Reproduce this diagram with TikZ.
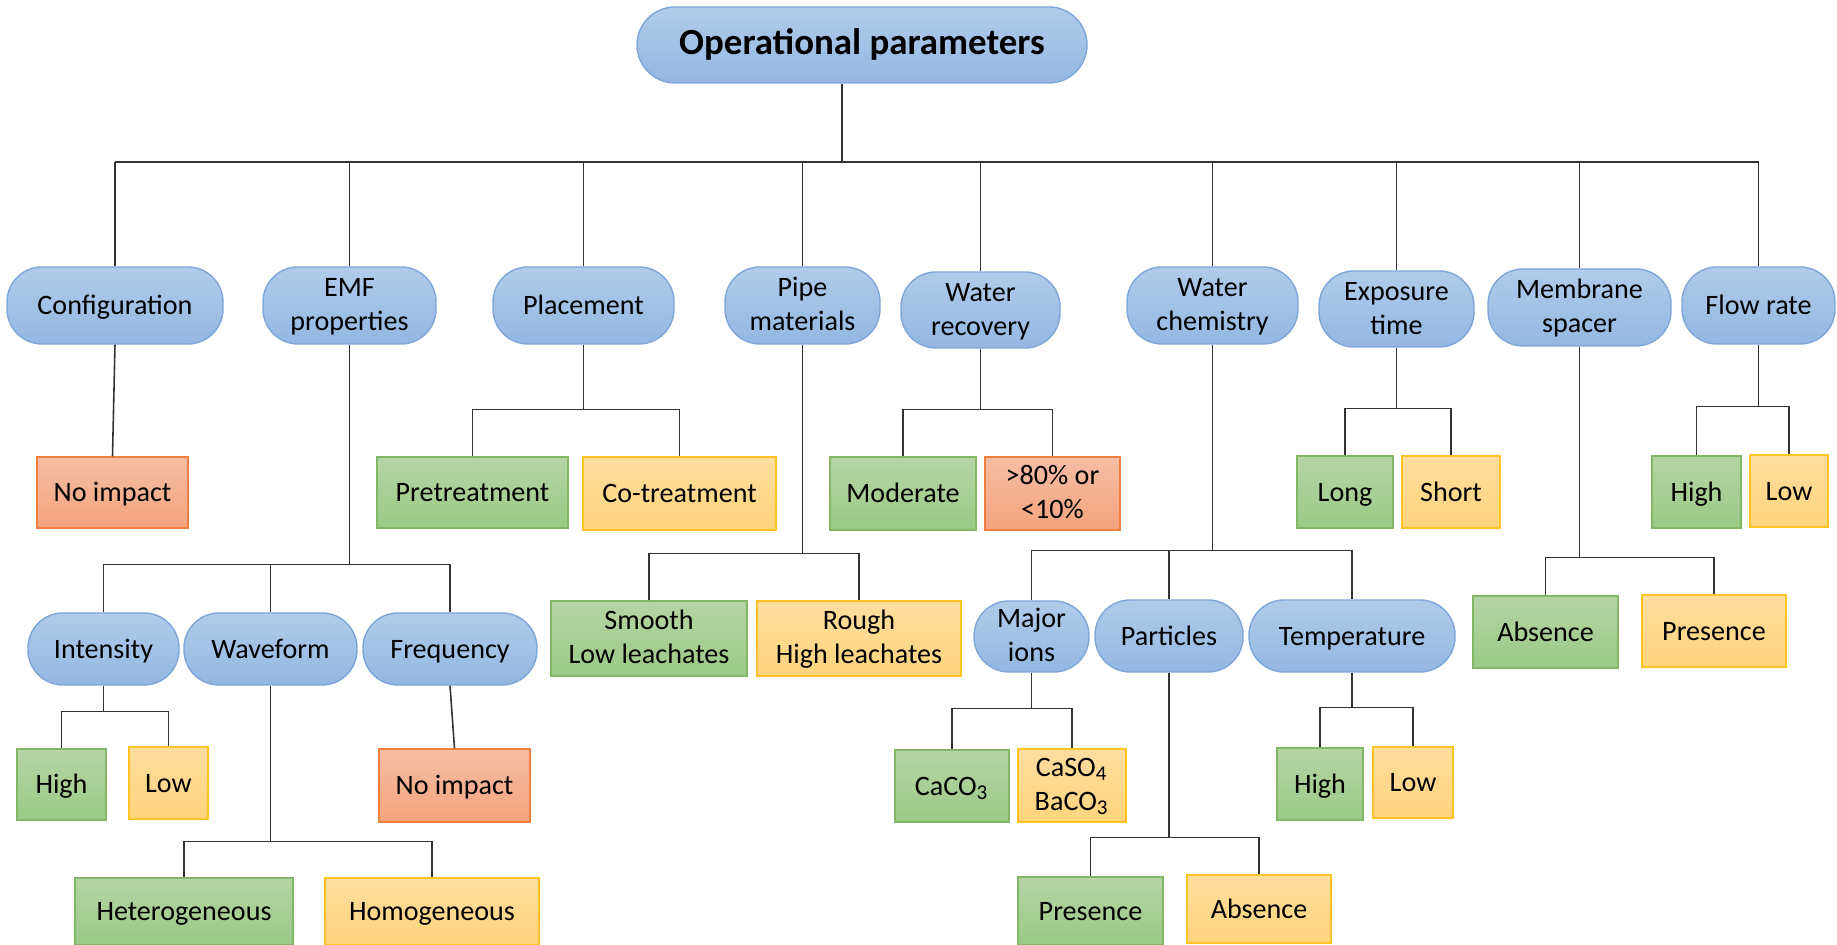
\documentclass[tikz,border=0pt]{standalone}
\usepackage{fontspec}
\setmainfont{Carlito}
\usepackage{xcolor}
\usepackage{tikz}

\definecolor{paramtop}{HTML}{B1CBEA}
\definecolor{parambot}{HTML}{93B7E2}
\definecolor{paramline}{HTML}{7EA6D8}
\definecolor{goodtop}{HTML}{B5D5A4}
\definecolor{goodbot}{HTML}{9BC985}
\definecolor{goodline}{HTML}{82B766}
\definecolor{midtop}{HTML}{FFDD9F}
\definecolor{midbot}{HTML}{FFD47C}
\definecolor{midline}{HTML}{FFC423}
\definecolor{badtop}{HTML}{F6BDA4}
\definecolor{badbot}{HTML}{F4A37D}
\definecolor{badline}{HTML}{EE7F3F}

\begin{document}
\begin{tikzpicture}[
    boxtext/.style={inner sep=0pt, align=center, font=\fontsize{8}{9.7}\selectfont,
        execute at begin node={\rule{0pt}{7.4pt}}, execute at end node={\rule[-2pt]{0pt}{2pt}}},
    twoline/.style={execute at begin node={\rule{0pt}{16.5pt}}},
    param/.style={boxtext, draw=paramline, top color=paramtop, bottom color=parambot, rounded corners=3.5mm},
    good/.style={boxtext, draw=goodline, top color=goodtop, bottom color=goodbot},
    mid/.style={boxtext, draw=midline, top color=midtop, bottom color=midbot},
    bad/.style={boxtext, draw=badline, top color=badtop, bottom color=badbot},
    link/.style={line width=0.45pt, black!80}
]
            \useasboundingbox (0,0) rectangle (18.37,9.45);

            % root
            \node[param, rounded corners=3.8mm, minimum width=4.5cm, minimum height=0.76cm, font=\bfseries\fontsize{10.5}{12.6}\selectfont] (root) at (8.62,9.00) {Operational parameters};

            % parameters
            \node[param, minimum width=2.16cm, minimum height=0.77cm] (conf) at (1.15,6.395) {Configuration};
            \node[param, twoline, minimum width=1.73cm, minimum height=0.77cm] (emf) at (3.495,6.395) {EMF\\properties};
            \node[param, minimum width=1.81cm, minimum height=0.77cm] (place) at (5.835,6.395) {Placement};
            \node[param, twoline, minimum width=1.55cm, minimum height=0.77cm] (pipe) at (8.025,6.395) {Pipe\\materials};
            \node[param, twoline, minimum width=1.59cm, minimum height=0.76cm] (wrec) at (9.805,6.35) {Water\\recovery};
            \node[param, twoline, minimum width=1.71cm, minimum height=0.77cm] (wchem) at (12.125,6.395) {Water\\chemistry};
            \node[param, twoline, minimum width=1.55cm, minimum height=0.76cm] (expo) at (13.965,6.36) {Exposure\\time};
            \node[param, twoline, minimum width=1.83cm, minimum height=0.77cm] (memb) at (15.795,6.375) {Membrane\\spacer};
            \node[param, minimum width=1.53cm, minimum height=0.77cm] (flow) at (17.585,6.395) {Flow rate};

            % sub-parameters
            \node[param, minimum width=1.51cm, minimum height=0.72cm] (intens) at (1.035,2.96) {Intensity};
            \node[param, minimum width=1.73cm, minimum height=0.72cm] (wave) at (2.705,2.96) {Waveform};
            \node[param, minimum width=1.74cm, minimum height=0.72cm] (freq) at (4.50,2.96) {Frequency};
            \node[param, twoline, minimum width=1.15cm, minimum height=0.71cm] (ions) at (10.315,3.085) {Major\\ions};
            \node[param, minimum width=1.48cm, minimum height=0.72cm] (partic) at (11.69,3.09) {Particles};
            \node[param, minimum width=2.06cm, minimum height=0.72cm] (temp) at (13.52,3.09) {Temperature};

            % effects
            \node[bad, minimum width=1.51cm, minimum height=0.71cm] (noimpA) at (1.125,4.525) {No impact};
            \node[good, minimum width=0.89cm, minimum height=0.71cm] (highA) at (0.615,1.605) {High};
            \node[mid, minimum width=0.79cm, minimum height=0.72cm] (lowA) at (1.685,1.62) {Low};
            \node[good, minimum width=2.18cm, minimum height=0.67cm] (hetero) at (1.84,0.335) {Heterogeneous};
            \node[mid, minimum width=2.14cm, minimum height=0.67cm] (homo) at (4.32,0.335) {Homogeneous};
            \node[bad, minimum width=1.51cm, minimum height=0.73cm] (noimpB) at (4.545,1.595) {No impact};
            \node[good, minimum width=1.91cm, minimum height=0.71cm] (pretr) at (4.725,4.525) {Pretreatment};
            \node[mid, minimum width=1.93cm, minimum height=0.73cm] (cotr) at (6.795,4.515) {Co-treatment};
            \node[good, twoline, minimum width=1.96cm, minimum height=0.75cm] (smooth) at (6.49,3.065) {Smooth\\Low leachates};
            \node[mid, twoline, minimum width=2.04cm, minimum height=0.75cm] (rough) at (8.59,3.065) {Rough\\High leachates};
            \node[good, minimum width=1.46cm, minimum height=0.73cm] (moder) at (9.03,4.515) {Moderate};
            \node[bad, twoline, minimum width=1.35cm, minimum height=0.73cm] (extreme) at (10.525,4.515) {>80\% or\\<10\%};
            \node[good, minimum width=1.14cm, minimum height=0.72cm] (caco) at (9.52,1.59) {CaCO\textsubscript{3}};
            \node[mid, twoline, minimum width=1.08cm, minimum height=0.73cm] (caso) at (10.72,1.595) {CaSO\textsubscript{4}\\BaCO\textsubscript{3}};
            \node[good, minimum width=1.45cm, minimum height=0.68cm] (presB) at (10.905,0.34) {Presence};
            \node[mid, minimum width=1.44cm, minimum height=0.68cm] (absB) at (12.59,0.36) {Absence};
            \node[good, minimum width=0.86cm, minimum height=0.72cm] (highC) at (13.20,1.61) {High};
            \node[mid, minimum width=0.80cm, minimum height=0.71cm] (lowC) at (14.13,1.625) {Low};
            \node[good, minimum width=0.96cm, minimum height=0.72cm] (longE) at (13.45,4.53) {Long};
            \node[mid, minimum width=0.98cm, minimum height=0.72cm] (shortE) at (14.51,4.53) {Short};
            \node[good, minimum width=1.45cm, minimum height=0.72cm] (absM) at (15.455,3.13) {Absence};
            \node[mid, minimum width=1.44cm, minimum height=0.72cm] (presM) at (17.14,3.14) {Presence};
            \node[good, minimum width=0.89cm, minimum height=0.72cm] (highF) at (16.965,4.53) {High};
            \node[mid, minimum width=0.78cm, minimum height=0.72cm] (lowF) at (17.89,4.54) {Low};

            % top bus
            \coordinate (bus) at (0,7.83);
            \draw[link] ([xshift=-2mm]root.south) -- ([xshift=-2mm]root.south |- bus);
            \draw[link] (conf.north |- bus) -- (flow.north |- bus);
            \foreach \p in {conf,emf,place,pipe,wrec,wchem,expo,memb,flow}
                \draw[link] (\p.north) -- (\p.north |- bus);

            % single links
            \draw[link] (conf.south) -- (noimpA.north);
            \draw[link] (freq.south) -- (noimpB.north);

            % branches
            \draw[link] (emf.south) -- ++(0,-2.20) coordinate (emfb);
            \draw[link] (intens.north) |- (emfb) -| (freq.north);
            \draw[link] (wave.north) -- (wave.north |- emfb);

            \draw[link] (intens.south) -- ++(0,-0.26) coordinate (intensb);
            \draw[link] (highA.north) |- (intensb) -| (lowA.north);

            \draw[link] (wave.south) -- ++(0,-1.56) coordinate (waveb);
            \draw[link] (hetero.north) |- (waveb) -| (homo.north);

            \draw[link] (place.south) -- ++(0,-0.65) coordinate (placeb);
            \draw[link] (pretr.north) |- (placeb) -| (cotr.north);

            \draw[link] (pipe.south) -- ++(0,-2.09) coordinate (pipeb);
            \draw[link] (smooth.north) |- (pipeb) -| (rough.north);

            \draw[link] (wrec.south) -- ++(0,-0.61) coordinate (wrecb);
            \draw[link] (moder.north) |- (wrecb) -| (extreme.north);

            \draw[link] (wchem.south) -- ++(0,-2.06) coordinate (wchemb);
            \draw[link] (ions.north) |- (wchemb) -| (temp.north);
            \draw[link] (partic.north) -- (partic.north |- wchemb);

            \draw[link] (ions.south) -- ++(0,-0.36) coordinate (ionsb);
            \draw[link] (caco.north) |- (ionsb) -| (caso.north);

            \draw[link] (partic.south) -- ++(0,-1.65) coordinate (particb);
            \draw[link] (presB.north) |- (particb) -| (absB.north);

            \draw[link] (temp.south) -- ++(0,-0.35) coordinate (tempb);
            \draw[link] (highC.north) |- (tempb) -| (lowC.north);

            \draw[link] (expo.south) -- ++(0,-0.61) coordinate (expob);
            \draw[link] (longE.north) |- (expob) -| (shortE.north);

            \draw[link] (memb.south) -- ++(0,-2.11) coordinate (membb);
            \draw[link] (absM.north) |- (membb) -| (presM.north);

            \draw[link] (flow.south) -- ++(0,-0.62) coordinate (flowb);
            \draw[link] (highF.north) |- (flowb) -| (lowF.north);
        \end{tikzpicture}
\end{document}
